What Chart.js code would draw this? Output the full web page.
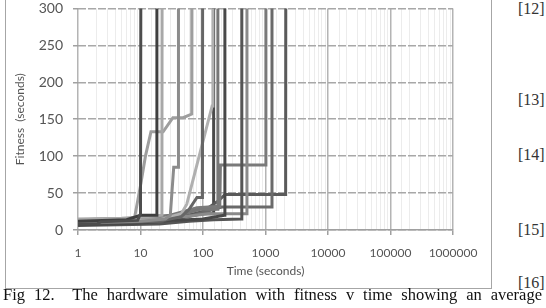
<!DOCTYPE html>
<html>
<head>
<meta charset="utf-8">
<script src="https://cdn.jsdelivr.net/npm/chart.js@4"></script>
<style>
  body { margin: 0; width: 546px; height: 308px; background: #fff; position: relative; overflow: hidden; }
  #box { position: absolute; left: 5px; top: -12px; width: 487px; height: 301px; border: 1.5px solid #a6a6a6; box-sizing: border-box; }
  #wrap { position: absolute; left: 6px; top: -10px; width: 484px; height: 298px; }
  .ref { position: absolute; left: 518px; font: 16px "Liberation Serif", serif; color: #333; }
  #caption { position: absolute; left: 3px; top: 285px; width: 539px; font: 16.5px "Liberation Serif", serif; color: #111; text-align: justify; text-align-last: justify; white-space: nowrap; }
</style>
</head>
<body>
<div id="box"></div>
<div id="wrap"><canvas id="grafico"></canvas></div>
<div class="ref" style="top:0px">[12]</div>
<div class="ref" style="top:91px">[13]</div>
<div class="ref" style="top:146px">[14]</div>
<div class="ref" style="top:221px">[15]</div>
<div class="ref" style="top:274px">[16]</div>
<div id="caption">Fig 12.&nbsp; The hardware simulation with fitness v time showing an average</div>
<script>
// each run: [time (s), fitness (s)]; last point is the jump off the top of the chart
const run01 = [[1, 8], [2, 8], [2.3, 11], [9, 13], [10, 22], [10.4, 1000]];
const run02 = [[1, 12], [6, 14], [10, 20], [18, 20], [18.3, 1000]];
const run03 = [[1, 15], [5, 16], [12, 18], [22, 20], [22.5, 1000]];
const run04 = [[1, 10], [10, 12], [25, 15], [30, 20], [34, 85], [40, 85], [40.5, 1000]];
const run05 = [[1, 13], [8, 16], [10, 60], [12, 100], [14.7, 133], [23, 133], [33, 152], [48, 152], [66, 157], [67, 1000]];
const run06 = [[1, 9], [3, 10], [20, 12], [45, 18], [60, 28], [80, 44], [98, 44], [100, 1000]];
const run07 = [[1, 11], [20, 14], [45, 22], [55, 35], [140, 168], [144, 1000]];
const run08 = [[1, 10], [15, 12], [40, 20], [90, 28], [170, 28], [173, 1000]];
const run09 = [[1, 7], [9, 9], [30, 13], [100, 15], [220, 20], [224, 1000]];
const run10 = [[1, 6], [20, 8], [60, 12], [150, 14], [410, 15], [418, 1000]];
const run11 = [[1, 12], [12, 15], [50, 18], [120, 22], [500, 22], [505, 1000]];
const run12 = [[1, 14], [8, 16], [30, 20], [80, 30], [185, 32], [190, 88], [1000, 88], [1015, 1000]];
const run13 = [[1, 10], [20, 13], [70, 20], [200, 31], [1250, 31], [1270, 1000]];
const run14 = [[1, 11], [30, 14], [100, 25], [180, 40], [225, 48], [2100, 48], [2140, 1000]];
const run15 = [[1, 9], [10, 11], [40, 16], [100, 22], [146, 22], [148, 1000]];

const runs = [run01, run02, run03, run04, run05, run06, run07, run08, run09, run10, run11, run12, run13, run14, run15];
const runColours = ['#4d4d4d', '#3f3f3f', '#a8a8a8', '#8c8c8c', '#9e9e9e', '#666666', '#b0b0b0', '#777777',
                    '#484848', '#555555', '#8a8a8a', '#7a7a7a', '#6a6a6a', '#5a5a5a', '#4a4a4a'];

const yTicks = [0, 50, 100, 150, 200, 250, 300];

function isDecade(v) {
    const l = Math.log10(v);
    return Math.abs(l - Math.round(l)) < 1e-9;
}

document.addEventListener("DOMContentLoaded", function () {
    const ctx = document.getElementById("grafico").getContext("2d");

    new Chart(ctx, {
        type: 'line',
        data: {
            datasets: runs.map(function (run, i) {
                return {
                    data: run.map(p => ({ x: p[0], y: p[1] })),
                    borderColor: runColours[i],
                    borderWidth: 3,
                    pointRadius: 0,
                    tension: 0,
                    fill: false
                };
            })
        },
        options: {
            responsive: true,
            maintainAspectRatio: false,
            animation: false,
            events: [],
            layout: { padding: { left: 0, right: 37, top: 17, bottom: 0 } },
            plugins: { legend: { display: false }, tooltip: { enabled: false } },
            scales: {
                x: {
                    type: 'logarithmic',
                    min: 1,
                    max: 1000000,
                    afterFit: function (s) { s.height = 58; },
                    grid: {
                        color: c => isDecade(c.tick.value) ? '#b4b4b4' : '#ececec',
                        lineWidth: c => isDecade(c.tick.value) ? 1.5 : 1,
                        tickColor: c => isDecade(c.tick.value) ? '#a0a0a0' : 'rgba(0,0,0,0)',
                        tickLength: 5
                    },
                    border: { display: true, color: '#a0a0a0', width: 1.5 },
                    ticks: {
                        autoSkip: false,
                        maxRotation: 0,
                        padding: 11,
                        color: '#555',
                        font: { family: 'Lato', size: 12 },
                        callback: function (v) { return isDecade(v) ? String(Math.round(v)) : ''; }
                    },
                    title: {
                        display: true,
                        text: 'Time (seconds)',
                        color: '#555',
                        font: { family: 'Lato', size: 12 },
                        padding: { top: 0, bottom: 10 }
                    }
                },
                y: {
                    min: 0,
                    max: 300,
                    afterFit: function (s) { s.width = 72; },
                    afterBuildTicks: function (s) { s.ticks = yTicks.map(v => ({ value: v })); },
                    grid: {
                        color: '#a8a8a8',
                        lineWidth: 1.5,
                        tickColor: '#a0a0a0',
                        tickLength: 5,
                        tickBorderDash: []
                    },
                    border: { display: false, dash: [8, 2] },
                    ticks: {
                        padding: 10,
                        color: '#555',
                        font: { family: 'Lato', size: 14 }
                    },
                    title: {
                        display: true,
                        text: 'Fitness  (seconds)',
                        color: '#555',
                        font: { family: 'Lato', size: 12 },
                        padding: { top: 7, bottom: 0 }
                    }
                }
            }
        }
    });
});
</script>
</body>
</html>
